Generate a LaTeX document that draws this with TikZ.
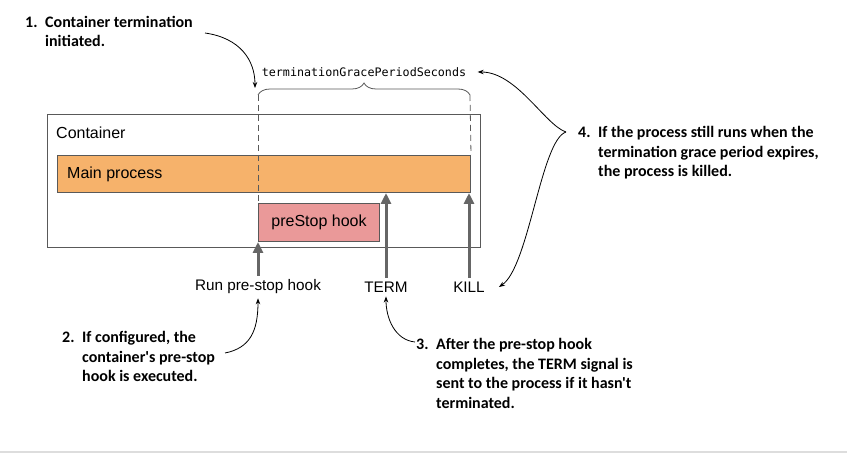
\documentclass[tikz,border=0pt]{standalone}
\usepackage{fontspec}
\setmainfont{Liberation Sans}
\setmonofont{DejaVu Sans Mono}
\newfontfamily\notefont{Carlito}
\usetikzlibrary{arrows.meta,decorations.pathreplacing,positioning}
\definecolor{mainorange}{HTML}{F6B26B}
\definecolor{hookred}{HTML}{EA9999}
\definecolor{edgegray}{HTML}{595959}
\definecolor{arrowgray}{HTML}{666666}
\definecolor{rulegray}{HTML}{DDDDDD}
\begin{document}
\begin{tikzpicture}[x=1pt, y=-1pt,
    procbox/.style={draw=edgegray, line width=1pt, inner sep=0pt},
    lbl/.style={font=\fontsize{16}{19}\selectfont, inner sep=0pt},
    tick/.style={font=\fontsize{15.3}{18}\selectfont, inner sep=4pt},
    note/.style={font=\notefont\bfseries\fontsize{16}{19.5}\selectfont, inner sep=0pt, anchor=north west},
    signal/.style={draw=arrowgray, line width=3pt, -{Triangle[length=11pt,width=10pt]}},
    callout/.style={draw, line width=0.8pt, -{Stealth[length=6pt,width=4.5pt]}},
    guide/.style={draw=edgegray, dash pattern=on 6pt off 4pt, line width=0.8pt}]
    \useasboundingbox (0,0) rectangle (847,454);
    \draw[rulegray, line width=2pt] (0,452) -- (847,452);
    % container
    \node[procbox, anchor=north west, minimum width=433, minimum height=133] (Cont) at (47,114) {};
    \node[lbl, anchor=west] (ContLbl) at (56,133) {Container};
    \node[procbox, fill=mainorange, anchor=north west, minimum width=413, minimum height=37] (Main) at (57,155) {};
    \node[lbl, right=10pt of Main.west] (MainLbl) {Main process};
    \node[procbox, fill=hookred, anchor=north west, minimum width=121, minimum height=38, font=\fontsize{16}{19}\selectfont] (Hook) at (258,203) {preStop hook};
    % signals
    \node[tick] (Run) at (258,287) {Run pre-stop hook};
    \node[tick] (Term) at (386,287) {TERM};
    \node[tick] (Kill) at (469,287) {KILL};
    \path (Run.north) edge [signal] (Hook.south west);
    \path (Term.north) edge [signal] (Term.north |- Main.south);
    \path (Kill.north) edge [signal] (Kill.north |- Main.south);
    % grace period
    \coordinate (GL) at (258,95);
    \coordinate (GR) at (470,95);
    \draw[edgegray, line width=0.8pt, decorate, decoration={brace, amplitude=12pt}] (GL) -- (GR);
    \node[font=\ttfamily\fontsize{11.7}{14}\selectfont] (Grace) at (364,72) {terminationGracePeriodSeconds};
    \path[guide] (GL) -- (Hook.north west);
    \path[guide] (GR) -- (Main.north east);
    % callouts
    \node[note] (N1) at (25,13.5) {\begin{tabular}{@{}p{20pt}@{}l@{}}1.&Container termination\\&initiated.\end{tabular}};
    \node[note] (N2) at (62,329) {\begin{tabular}{@{}p{20pt}@{}l@{}}2.&If configured, the\\&container's pre-stop\\&hook is executed.\end{tabular}};
    \node[note] (N3) at (416,336) {\begin{tabular}{@{}p{20pt}@{}l@{}}3.&After the pre-stop hook\\&completes, the TERM signal is\\&sent to the process if it hasn't\\&terminated.\end{tabular}};
    \node[note] (N4) at (578,124) {\begin{tabular}{@{}p{20pt}@{}l@{}}4.&If the process still runs when the\\&termination grace period expires,\\&the process is killed.\end{tabular}};
    \coordinate (C1) at (205,33);
    \coordinate (C2) at (225,353);
    \coordinate (C3) at (415,342);
    \coordinate (C4) at (566,132);
    \draw[callout] (C1) .. controls +(35,5) and +(0,-28) .. ([xshift=-3pt,yshift=7pt]GL);
    \draw[callout] (C2) .. controls +(25,-5) and +(0,33) .. (Run.south);
    \draw[callout] (C3) .. controls +(-20,-2) and +(0,22) .. (Term.south);
    \draw[callout] (C4) .. controls +(-21,-7) and +(39,0) .. ([xshift=8pt]Grace.east);
    \draw[callout] (C4) .. controls +(-25,8) and +(30,-20) .. ([xshift=10pt]Kill.east);
\end{tikzpicture}
\end{document}
